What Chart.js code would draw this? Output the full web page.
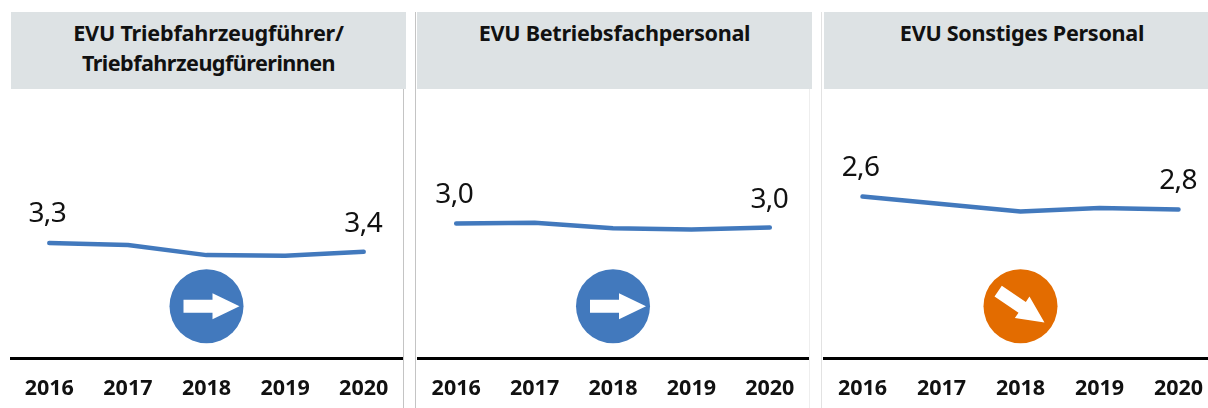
<!DOCTYPE html>
<html><head><meta charset="utf-8">
<script src="https://cdn.jsdelivr.net/npm/chart.js@4"></script>
<style>
html,body{margin:0;padding:0;background:#fff;width:1208px;height:408px;overflow:hidden}
.h{position:absolute;top:12px;height:77px;background:#dde2e4;color:#111;font:700 21.6px/30px "Noto Sans",sans-serif;text-align:center;box-sizing:border-box;padding-top:6px;letter-spacing:-.3px}
.c{position:absolute;top:89px;height:319px}
.r{position:absolute;width:1px;background:#c4c4c4}
</style></head><body>
<div class="h" style="left:11px;width:395px;letter-spacing:-.2px">EVU Triebfahrzeugführer/<br><span style="letter-spacing:-.55px">Triebfahrzeugfürerinnen</span></div>
<div class="h" style="left:417px;width:395px">EVU Betriebsfachpersonal</div>
<div class="h" style="left:824px;width:396px">EVU Sonstiges Personal</div>
<div class="r" style="left:403px;top:89px;height:319px"></div>
<div class="r" style="left:415px;top:12px;height:396px"></div>
<div class="r" style="left:809px;top:89px;height:319px;background:#eeeeee"></div>
<div class="r" style="left:821px;top:12px;height:396px;background:#e2e2e2"></div>
<div class="c" style="left:10px;width:393px"><canvas id="a"></canvas></div>
<div class="c" style="left:417px;width:392px"><canvas id="b"></canvas></div>
<div class="c" style="left:823px;width:395px"><canvas id="d"></canvas></div>
<script>
const years = ["2016","2017","2018","2019","2020"];
const triebfahrzeug = [3.29,3.32,3.47,3.48,3.42];
const betrieb = [3.0,2.99,3.07,3.09,3.06];
const sonstiges = [2.6,2.71,2.82,2.77,2.79];
const endLabels1 = ["3,3","3,4"];
const endLabels2 = ["3,0","3,0"];
const endLabels3 = ["2,6","2,8"];
const blue = "#4279bd", orange = "#e36c00";

function arrow(ctx,cx,cy,angle,shift){
  ctx.save();ctx.translate(cx,cy);ctx.rotate(angle);ctx.translate(shift,0);ctx.fillStyle="#fff";
  ctx.beginPath();
  ctx.moveTo(-28,-6.5);ctx.lineTo(1,-6.5);ctx.lineTo(1,-13);ctx.lineTo(28,0);
  ctx.lineTo(1,13);ctx.lineTo(1,6.5);ctx.lineTo(-28,6.5);ctx.closePath();ctx.fill();ctx.restore();
}
function make(id,values,labels,color,angle,shift){
  new Chart(document.getElementById(id),{
    type:"line",
    data:{labels:years,datasets:[{data:values,borderColor:blue,borderWidth:4.5,borderCapStyle:"round",borderJoinStyle:"round",pointRadius:0,tension:0,fill:false}]},
    options:{
      responsive:true,maintainAspectRatio:false,animation:false,
      layout:{padding:0,autoPadding:false},
      plugins:{legend:{display:false},tooltip:{enabled:false},title:{display:false}},
      scales:{
        y:{display:false,reverse:true,min:1,max:5},
        x:{offset:true,afterFit:s=>{s.height=50;s.paddingLeft=0;s.paddingRight=0},
           grid:{display:false,drawTicks:false},
           border:{display:true,color:"#000",width:3},
           ticks:{color:"#111",font:{family:"Noto Sans",size:21.5,weight:"700"},padding:18,maxRotation:0,autoSkip:false}}
      }
    },
    plugins:[{id:"deco",afterDatasetsDraw(ch){
      const c=ch.ctx,x=ch.scales.x,y=ch.scales.y;
      c.save();
      c.font='28px "Noto Sans"';c.letterSpacing="-.6px";c.fillStyle="#111";c.textAlign="center";c.textBaseline="alphabetic";
      c.fillText(labels[0],x.getPixelForValue(0)-2,y.getPixelForValue(values[0])-21);
      c.fillText(labels[1],x.getPixelForValue(4)-0.5,y.getPixelForValue(values[4])-20);
      const cx=x.getPixelForValue(2),cy=y.getPixelForValue(4.23);
      c.fillStyle=color;c.beginPath();c.arc(cx,cy,37,0,Math.PI*2);c.fill();
      arrow(c,cx,cy,angle,shift);
      c.restore();
    }}]
  });
}
make("a",triebfahrzeug,endLabels1,blue,0,5);
make("b",betrieb,endLabels2,blue,0,5);
make("d",sonstiges,endLabels3,orange,Math.PI*0.19,1);
</script></body></html>
